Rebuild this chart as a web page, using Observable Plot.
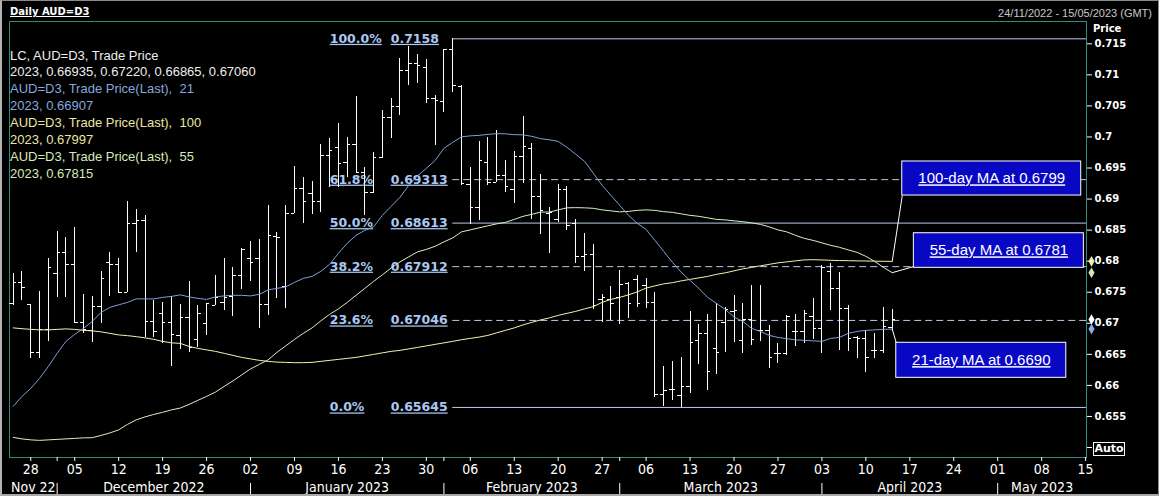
<!DOCTYPE html>
<html><head><meta charset="utf-8">
<script src="https://cdn.jsdelivr.net/npm/d3@7"></script>
<script src="https://cdn.jsdelivr.net/npm/@observablehq/plot@0.6"></script>
<style>
html,body{margin:0;padding:0;background:#000;}
#wrap{position:relative;width:1159px;height:496px;background:#000;overflow:hidden;}
#wrap > svg{position:absolute;left:0;top:0;}
.ov{position:absolute;white-space:pre;}
#border{position:absolute;left:0;top:0;width:1159px;height:496px;box-sizing:border-box;border-top:1px solid #8a8a8a;border-left:2px solid #b4b4b4;border-right:1px solid #8a8a8a;border-bottom:2px solid #a8a8a8;pointer-events:none;}
</style></head>
<body><div id="wrap"></div>
<script>
// ---------- data ----------
const startDate = "2022-11-24", endDate = "2023-05-15";
const open = [
0.67316,0.67664,0.67297,0.66532,0.66902,0.67800,0.68137,0.67949,0.67010,0.66886,
0.67273,0.67976,0.67949,0.67493,0.68604,0.68657,0.67036,0.67165,0.67020,0.66805,
0.67100,0.66746,0.66994,0.67289,0.67342,0.67434,0.67772,0.68041,0.68041,0.67300,
0.68400,0.67595,0.68775,0.69168,0.69087,0.68963,0.69704,0.69838,0.69596,0.69876,
0.69435,0.69113,0.69677,0.70311,0.70498,0.71073,0.71181,0.71116,0.70617,0.70578,
0.71406,0.70815,0.69237,0.68867,0.69596,0.69274,0.69382,0.69157,0.69683,0.69812,
0.69044,0.68765,0.68669,0.69152,0.68604,0.68078,0.68110,0.67380,0.67380,0.67422,
0.67648,0.67702,0.67611,0.67342,0.65855,0.65931,0.65839,0.65984,0.66725,0.66833,
0.66591,0.67015,0.67197,0.66725,0.67055,0.66886,0.66878,0.66521,0.66511,0.66875,
0.66875,0.67111,0.66913,0.67841,0.67557,0.67235,0.66778,0.66752,0.66564,0.66564,
0.66935];
const high = [
0.67804,0.67841,0.67305,0.67514,0.68050,0.68485,0.68379,0.68540,0.67466,0.67438,
0.67836,0.68137,0.68045,0.68963,0.68834,0.68738,0.67369,0.67342,0.67434,0.67305,
0.67680,0.67289,0.67326,0.67772,0.68041,0.67896,0.68211,0.68319,0.68356,0.68899,
0.68469,0.68899,0.69527,0.69355,0.69290,0.69881,0.69973,0.70215,0.69999,0.70659,
0.69506,0.69757,0.70429,0.70617,0.71261,0.71459,0.71330,0.71245,0.70670,0.71411,
0.71580,0.70831,0.69516,0.69929,0.69999,0.70107,0.69624,0.69768,0.70327,0.69902,
0.69398,0.68862,0.69237,0.69205,0.68673,0.68453,0.68271,0.67466,0.67595,0.67852,
0.67664,0.67772,0.67718,0.67503,0.66306,0.66387,0.66443,0.67192,0.66983,0.67144,
0.67316,0.67261,0.67450,0.67321,0.67611,0.67603,0.66967,0.66672,0.67128,0.67144,
0.67208,0.67396,0.67933,0.67960,0.67825,0.67289,0.66789,0.66886,0.66833,0.67261,
0.67220];
const low = [
0.67289,0.67369,0.66430,0.66430,0.66714,0.67422,0.67422,0.66994,0.66843,0.66688,
0.67004,0.67438,0.67482,0.67493,0.68137,0.66778,0.66778,0.66672,0.66306,0.66580,
0.66527,0.66617,0.66805,0.67289,0.67208,0.67111,0.67541,0.67675,0.66913,0.67128,
0.67401,0.67235,0.68775,0.68614,0.68749,0.68791,0.69194,0.69194,0.69355,0.69409,
0.68738,0.69087,0.69651,0.69973,0.70348,0.70831,0.70859,0.70537,0.69865,0.70401,
0.70723,0.69221,0.68593,0.68651,0.69221,0.69274,0.69113,0.68926,0.69248,0.68669,
0.68432,0.68131,0.68630,0.68496,0.67970,0.67841,0.67219,0.67020,0.67047,0.66983,
0.67074,0.67261,0.67235,0.65812,0.65660,0.65759,0.65645,0.65872,0.66339,0.65920,
0.66177,0.66537,0.66685,0.66516,0.66644,0.66714,0.66269,0.66350,0.66483,0.66628,
0.66672,0.66736,0.66521,0.67208,0.66564,0.66553,0.66430,0.66215,0.66430,0.66511,
0.66865];
const close = [
0.67664,0.67578,0.66537,0.66902,0.67905,0.68137,0.67949,0.67010,0.66902,0.67273,
0.67723,0.67949,0.67493,0.68604,0.68657,0.67036,0.66870,0.67020,0.66817,0.67100,
0.66617,0.67155,0.67326,0.67413,0.67422,0.67772,0.68190,0.67981,0.67300,0.68408,
0.68388,0.68775,0.69165,0.68963,0.68963,0.69704,0.69785,0.69580,0.69876,0.69435,
0.69113,0.69677,0.70311,0.70498,0.71073,0.71181,0.71153,0.70617,0.70590,0.71406,
0.70831,0.69253,0.68867,0.69624,0.69274,0.69382,0.69205,0.69683,0.69849,0.69044,
0.68818,0.68791,0.69152,0.68577,0.68078,0.68110,0.67289,0.67422,0.67316,0.67627,
0.67326,0.67326,0.67342,0.65855,0.65920,0.65931,0.65984,0.66685,0.66833,0.66226,
0.66537,0.67224,0.67203,0.67055,0.66736,0.66878,0.66446,0.66521,0.67111,0.66875,
0.67165,0.66913,0.67905,0.67557,0.67235,0.66752,0.66752,0.66446,0.66564,0.66950,
0.67060];
const ma21 = [
0.65662,0.65823,0.65952,0.66113,0.66306,0.66516,0.66709,0.66822,0.66918,0.67031,
0.67176,0.67256,0.67297,0.67337,0.67393,0.67393,0.67393,0.67417,0.67433,0.67458,
0.67425,0.67401,0.67385,0.67425,0.67441,0.67450,0.67450,0.67441,0.67466,0.67538,
0.67562,0.67586,0.67659,0.67723,0.67755,0.67836,0.67949,0.68126,0.68287,0.68416,
0.68496,0.68553,0.68738,0.68883,0.69028,0.69221,0.69374,0.69495,0.69623,0.69817,
0.69913,0.70002,0.70018,0.70026,0.70042,0.70053,0.70050,0.70037,0.70034,0.70010,
0.69973,0.69954,0.69929,0.69833,0.69720,0.69608,0.69414,0.69221,0.69060,0.68899,
0.68738,0.68609,0.68512,0.68335,0.68158,0.67981,0.67820,0.67691,0.67562,0.67417,
0.67321,0.67224,0.67100,0.67031,0.66918,0.66870,0.66805,0.66773,0.66752,0.66733,
0.66725,0.66717,0.66709,0.66757,0.66773,0.66838,0.66870,0.66886,0.66894,0.66902,
0.66907];
const ma55 = [
0.65163,0.65139,0.65123,0.65115,0.65123,0.65131,0.65139,0.65147,0.65155,0.65158,
0.65195,0.65235,0.65284,0.65372,0.65445,0.65493,0.65533,0.65566,0.65606,0.65635,
0.65694,0.65759,0.65823,0.65892,0.65984,0.66073,0.66169,0.66266,0.66338,0.66411,
0.66532,0.66636,0.66741,0.66838,0.66926,0.67039,0.67144,0.67232,0.67337,0.67450,
0.67562,0.67675,0.67780,0.67892,0.67989,0.68070,0.68150,0.68190,0.68239,0.68311,
0.68375,0.68472,0.68504,0.68537,0.68569,0.68601,0.68625,0.68673,0.68722,0.68754,
0.68791,0.68791,0.68826,0.68859,0.68862,0.68859,0.68851,0.68826,0.68810,0.68794,
0.68802,0.68818,0.68826,0.68818,0.68797,0.68786,0.68762,0.68738,0.68722,0.68698,
0.68673,0.68665,0.68649,0.68636,0.68617,0.68593,0.68553,0.68504,0.68472,0.68416,
0.68367,0.68335,0.68295,0.68255,0.68223,0.68182,0.68142,0.68078,0.67997,0.67900,
0.67815];
const ma100 = [
0.66926,0.66913,0.66902,0.66894,0.66894,0.66902,0.66910,0.66902,0.66886,0.66878,
0.66862,0.66838,0.66813,0.66801,0.66785,0.66765,0.66741,0.66709,0.66685,0.66677,
0.66628,0.66596,0.66572,0.66548,0.66516,0.66483,0.66451,0.66427,0.66403,0.66387,
0.66375,0.66371,0.66366,0.66366,0.66371,0.66387,0.66403,0.66419,0.66435,0.66451,
0.66475,0.66499,0.66524,0.66548,0.66564,0.66588,0.66612,0.66636,0.66661,0.66685,
0.66709,0.66736,0.66757,0.66778,0.66805,0.66846,0.66886,0.66926,0.66975,0.67015,
0.67055,0.67087,0.67127,0.67160,0.67192,0.67232,0.67269,0.67337,0.67385,0.67417,
0.67458,0.67506,0.67567,0.67602,0.67635,0.67654,0.67683,0.67707,0.67731,0.67755,
0.67788,0.67812,0.67844,0.67876,0.67900,0.67925,0.67949,0.67973,0.67989,0.68005,
0.68021,0.68024,0.68020,0.68015,0.68010,0.68008,0.68005,0.68003,0.68000,0.67998,
0.67997];
const fibPct   = ["100.0%","61.8%","50.0%","38.2%","23.6%","0.0%"];
const fibValue = [0.7158,0.69313,0.68613,0.67912,0.67046,0.65645];
const fibText  = ["0.7158","0.69313","0.68613","0.67912","0.67046","0.65645"];
const fibDashed = [false,true,false,true,true,false];
const priceTicks = [0.65,0.655,0.66,0.665,0.67,0.675,0.68,0.685,0.69,0.695,0.70,0.705,0.71,0.715];
const monthLabels = ["Nov 22","December 2022","January 2023","February 2023","March 2023","April 2023","May 2023"];
const calloutLabel = ["100-day MA at 0.6799","55-day MA at 0.6781","21-day MA at 0.6690"];
const calloutBoxIdx = [[101.14,121.5],[102.46,121.8],[100.46,119.8]];
const calloutBoxPrice = [[0.69057,0.69605],[0.67893,0.68450],[0.66122,0.66686]];
const calloutAttach = [[101.14,0.69057],[102.46,0.67914],[100.46,0.66686]];
const legendLines = [
  ["LC, AUD=D3, Trade Price", "w"],
  ["2023, 0.66935, 0.67220, 0.66865, 0.67060", "w"],
  ["AUD=D3, Trade Price(Last),  21", "b"],
  ["2023, 0.66907", "b"],
  ["AUD=D3, Trade Price(Last),  100", "y"],
  ["2023, 0.67997", "y"],
  ["AUD=D3, Trade Price(Last),  55", "g"],
  ["2023, 0.67815", "g"]
];

// ---------- styles ----------
const COL = {w: "#eeeeee", b: "#86a8de", y: "#ebe6a4", g: "#d6eab8"};
const LINE21 = "#7f9fd6", LINE100 = "#f6f2aa", LINE55 = "#dcedc6";
const FRAME = "#2f8a82", FIB = "#b6cbe6", FIBTXT = "#a9c8f2", BOX = "#0808c4";

// ---------- derived ----------
const parse = d3.utcParse("%Y-%m-%d");
const days = d3.utcDays(parse(startDate), d3.utcDay.offset(parse(endDate), 1))
  .filter(d => d.getUTCDay() !== 0 && d.getUTCDay() !== 6);
const xMin = -0.42, xMax = days.length - 1 + 0.1;
const yMin = 0.648392, yMax = 0.71859;
const mondays = d3.range(days.length).filter(i => days[i].getUTCDay() === 1);
const monthStarts = d3.range(1, days.length).filter(i => days[i].getUTCMonth() !== days[i - 1].getUTCMonth());
const topTicks = Array.from(new Set([...mondays, ...monthStarts])).sort((a, b) => a - b);
const mondaySet = new Set(mondays);
const bounds = [xMin, ...monthStarts, xMax];
const monthCenters = monthLabels.map((_, k) => (bounds[k] + bounds[k + 1]) / 2);
const monthMap = new Map(monthCenters.map((c, k) => [c, monthLabels[k]]));
const dayFmt = d3.utcFormat("%d");

const bars = open.map((o, i) => ({i, o, h: high[i], l: low[i], c: close[i]}));
const tickLen = 0.38;
const highIdx = d3.maxIndex(high);
const lastIdx = open.length - 1;
const fibs = fibValue.map((v, k) => ({value: v, pct: fibPct[k], label: fibText[k], dashed: fibDashed[k]}));
const series = (arr) => arr.map((v, i) => ({i, v}));
const maEnds = [ma100[lastIdx], ma55[lastIdx], ma21[lastIdx]];
const callouts = calloutLabel.map((label, k) => ({
  label,
  bx1: calloutBoxIdx[k][0], bx2: calloutBoxIdx[k][1],
  by1: calloutBoxPrice[k][0], by2: calloutBoxPrice[k][1],
  ax: lastIdx, ay: maEnds[k],
  cx: calloutAttach[k][0], cy: calloutAttach[k][1]
}));
const markers = [
  {v: ma100[lastIdx], color: "#f4f09a"},
  {v: ma55[lastIdx], color: "#cfe8b4"},
  {v: close[lastIdx], color: "#ffffff"},
  {v: ma21[lastIdx], color: "#8aaee6"}
];

const plot = Plot.plot({
  width: 1159, height: 496,
  marginLeft: 9, marginRight: 73, marginTop: 21, marginBottom: 39,
  x: {domain: [xMin, xMax]},
  y: {domain: [yMin, yMax]},
  color: {type: "identity"},
  style: {background: "#000", color: "#fff", fontFamily: "'Liberation Sans Narrow','DejaVu Sans Condensed',sans-serif", fontSize: "14px", overflow: "visible"},
  marks: [
    Plot.frame({stroke: FRAME}),
    Plot.ruleY(fibs.filter(d => !d.dashed), {y: "value", x1: highIdx, x2: xMax, stroke: FIB}),
    Plot.ruleY(fibs.filter(d => d.dashed), {y: "value", x1: highIdx, x2: xMax, stroke: FIB, strokeDasharray: "7,4"}),
    Plot.text(fibs, {x: highIdx, y: "value", text: "pct", dx: -123, textAnchor: "start", fill: FIBTXT, fontFamily: "DejaVu Sans", fontWeight: "bold", fontSize: 12.5, ariaDescription: "ul"}),
    Plot.text(fibs, {x: highIdx, y: "value", text: "label", dx: -62, textAnchor: "start", fill: FIBTXT, fontFamily: "DejaVu Sans", fontWeight: "bold", fontSize: 12.5, ariaDescription: "ul"}),
    Plot.ruleX(bars, {x: "i", y1: "l", y2: "h", stroke: "#fff", shapeRendering: "crispEdges"}),
    Plot.ruleY(bars, {y: "o", x1: d => d.i - tickLen, x2: "i", stroke: "#fff", shapeRendering: "crispEdges"}),
    Plot.ruleY(bars, {y: "c", x1: "i", x2: d => d.i + tickLen, stroke: "#fff", shapeRendering: "crispEdges"}),
    Plot.line(series(ma100), {x: "i", y: "v", stroke: LINE100, strokeWidth: 1}),
    Plot.line(series(ma55), {x: "i", y: "v", stroke: LINE55, strokeWidth: 1}),
    Plot.line(series(ma21), {x: "i", y: "v", stroke: LINE21, strokeWidth: 1}),
    Plot.link(callouts, {x1: "ax", y1: "ay", x2: "cx", y2: "cy", stroke: "#fff", strokeWidth: 1}),
    Plot.rect(callouts, {x1: "bx1", x2: "bx2", y1: "by1", y2: "by2", fill: BOX, stroke: "#fff", strokeWidth: 1}),
    Plot.text(callouts, {x: d => (d.bx1 + d.bx2) / 2, y: d => (d.by1 + d.by2) / 2, text: "label", fill: "#fff", fontFamily: "'Liberation Sans',sans-serif", fontSize: 15, ariaDescription: "ul"}),
    Plot.dot(markers, {x: xMax, y: "v", dx: 5, symbol: "diamond", r: 3.2, fill: "color", stroke: null}),
    Plot.axisY(priceTicks, {anchor: "right", label: null, tickSize: 5, tickPadding: 3,
      tickFormat: d => d === 0.65 ? "" : String(+d.toFixed(3)),
      fontFamily: "DejaVu Sans", fontWeight: "bold", fontSize: 10}),
    Plot.axisX(topTicks, {label: null, tickSize: 4, tickPadding: 3, tickFormat: i => mondaySet.has(i) ? dayFmt(days[i]) : "", fontSize: 14}),
    Plot.ruleX(monthStarts, {x: d => d, stroke: "#fff", insetTop: 462, insetBottom: -39}),
    Plot.axisX(monthCenters, {label: null, tickSize: 0, tickPadding: 0, dy: 25, tickFormat: d => monthMap.get(d), fontSize: 14})
  ]
});

d3.select(plot).selectAll('g[aria-description="ul"] text')
  .attr("text-decoration", "underline").style("text-decoration", "underline");

const wrap = document.getElementById("wrap");
wrap.appendChild(plot);

function ov(text, css) {
  const d = document.createElement("div");
  d.className = "ov";
  d.textContent = text;
  Object.assign(d.style, css);
  wrap.appendChild(d);
  return d;
}
ov("Daily AUD=D3", {left: "10px", top: "6px", font: "bold 10px 'DejaVu Sans'", lineHeight: "12px", color: "#fff", textDecoration: "underline"});
ov("24/11/2022 - 15/05/2023 (GMT)", {right: "7px", top: "7px", font: "11px 'Liberation Sans'", lineHeight: "13px", color: "#c8c8c8"});
ov("Price", {left: "1093px", top: "22.5px", font: "bold 10px 'DejaVu Sans'", lineHeight: "12px", color: "#fff"});
ov("Auto", {left: "1093px", top: "442px", width: "30px", height: "12px", border: "1px solid #fff", font: "bold 11px 'DejaVu Sans'", lineHeight: "12px", color: "#fff", textAlign: "center", background: "#000"});
legendLines.forEach(([t, c], k) => {
  ov(t, {left: "10px", top: (46.5 + k * 16.9) + "px", font: "13px 'Liberation Sans'", lineHeight: "17px", color: COL[c]});
});
const b = document.createElement("div"); b.id = "border"; wrap.appendChild(b);
</script>
</body></html>
